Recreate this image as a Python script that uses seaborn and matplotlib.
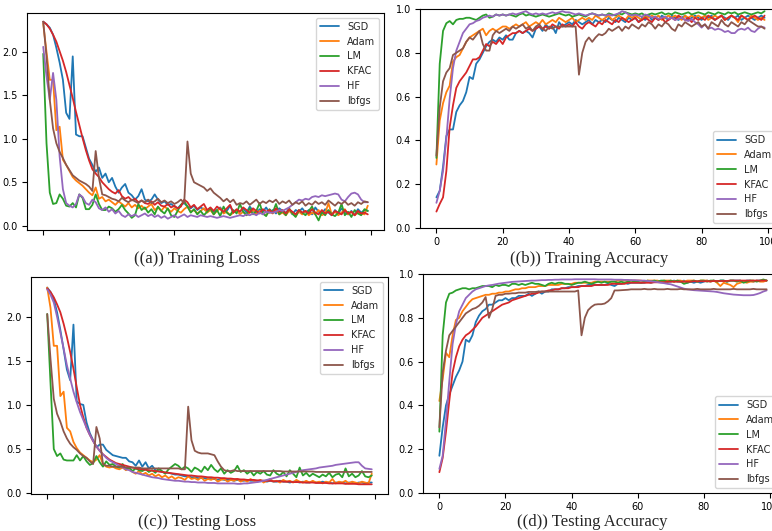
import matplotlib
matplotlib.use("Agg")
import matplotlib.pyplot as plt
import pandas as pd
import seaborn as sns

epochs = list(range(100))
names = ["SGD", "Adam", "LM", "KFAC", "HF", "lbfgs"]

# (a) training loss
tr_loss_sgd = [2.35, 2.32, 2.28, 2.20, 2.05, 1.88, 1.68, 1.30, 1.23, 1.95,
               1.05, 1.03, 1.03, 0.90, 0.77, 0.70, 0.62, 0.67, 0.55, 0.60,
               0.50, 0.55, 0.45, 0.38, 0.44, 0.48, 0.38, 0.35, 0.30, 0.34,
               0.42, 0.30, 0.28, 0.30, 0.36, 0.30, 0.26, 0.28, 0.24, 0.25,
               0.22, 0.20, 0.24, 0.26, 0.22, 0.20, 0.23, 0.18, 0.21, 0.19,
               0.17, 0.20, 0.16, 0.18, 0.21, 0.15, 0.17, 0.23, 0.15, 0.18,
               0.16, 0.20, 0.15, 0.22, 0.17, 0.14, 0.19, 0.16, 0.21, 0.15,
               0.18, 0.14, 0.20, 0.17, 0.15, 0.19, 0.13, 0.18, 0.16, 0.20,
               0.15, 0.18, 0.13, 0.21, 0.16, 0.14, 0.19, 0.15, 0.12, 0.18,
               0.14, 0.20, 0.15, 0.13, 0.17, 0.12, 0.19, 0.15, 0.18, 0.17]
tr_loss_adam = [2.33, 2.00, 1.68, 1.68, 1.10, 1.14, 0.76, 0.70, 0.63, 0.56,
                0.52, 0.49, 0.46, 0.42, 0.38, 0.35, 0.44, 0.31, 0.33, 0.28,
                0.30, 0.27, 0.24, 0.28, 0.25, 0.22, 0.26, 0.21, 0.24, 0.20,
                0.23, 0.19, 0.22, 0.25, 0.18, 0.21, 0.17, 0.22, 0.19, 0.16,
                0.20, 0.17, 0.15, 0.19, 0.22, 0.16, 0.18, 0.14, 0.17, 0.20,
                0.15, 0.18, 0.13, 0.17, 0.20, 0.14, 0.16, 0.12, 0.15, 0.18,
                0.13, 0.16, 0.12, 0.15, 0.18, 0.13, 0.17, 0.14, 0.12, 0.16,
                0.14, 0.18, 0.13, 0.15, 0.12, 0.17, 0.14, 0.11, 0.16, 0.13,
                0.17, 0.12, 0.15, 0.13, 0.18, 0.12, 0.14, 0.26, 0.13, 0.16,
                0.12, 0.15, 0.19, 0.13, 0.16, 0.12, 0.15, 0.14, 0.13, 0.23]
tr_loss_lm = [1.98, 0.95, 0.38, 0.25, 0.26, 0.36, 0.31, 0.23, 0.22, 0.26,
              0.21, 0.36, 0.32, 0.19, 0.19, 0.24, 0.36, 0.25, 0.18, 0.18,
              0.22, 0.20, 0.16, 0.19, 0.24, 0.18, 0.14, 0.09, 0.12, 0.25,
              0.18, 0.21, 0.15, 0.19, 0.13, 0.22, 0.17, 0.14, 0.20, 0.12,
              0.10, 0.17, 0.24, 0.28, 0.22, 0.15, 0.19, 0.13, 0.17, 0.12,
              0.16, 0.20, 0.13, 0.18, 0.11, 0.22, 0.15, 0.12, 0.18, 0.14,
              0.25, 0.16, 0.12, 0.20, 0.13, 0.17, 0.26, 0.14, 0.11, 0.19,
              0.15, 0.25, 0.13, 0.17, 0.12, 0.20, 0.14, 0.10, 0.18, 0.15,
              0.12, 0.17, 0.22, 0.13, 0.06, 0.16, 0.12, 0.18, 0.13, 0.11,
              0.15, 0.25, 0.12, 0.16, 0.10, 0.18, 0.14, 0.12, 0.19, 0.17]
tr_loss_kfac = [2.35, 2.32, 2.27, 2.20, 2.12, 2.01, 1.90, 1.77, 1.62, 1.47,
                1.31, 1.16, 1.01, 0.87, 0.75, 0.65, 0.60, 0.56, 0.50, 0.46,
                0.42, 0.39, 0.37, 0.41, 0.34, 0.31, 0.33, 0.29, 0.31, 0.27,
                0.29, 0.26, 0.25, 0.28, 0.24, 0.27, 0.23, 0.22, 0.25, 0.21,
                0.23, 0.20, 0.22, 0.30, 0.27, 0.21, 0.24, 0.19, 0.22, 0.25,
                0.18, 0.21, 0.17, 0.22, 0.19, 0.16, 0.20, 0.24, 0.15, 0.19,
                0.16, 0.21, 0.18, 0.15, 0.20, 0.17, 0.14, 0.19, 0.16, 0.18,
                0.15, 0.20, 0.16, 0.18, 0.14, 0.19, 0.16, 0.13, 0.18, 0.15,
                0.17, 0.14, 0.19, 0.15, 0.13, 0.18, 0.14, 0.16, 0.12, 0.17,
                0.15, 0.13, 0.18, 0.14, 0.16, 0.12, 0.17, 0.14, 0.15, 0.13]
tr_loss_hf = [2.06, 1.72, 1.45, 1.76, 1.45, 0.80, 0.42, 0.26, 0.23, 0.21,
              0.25, 0.36, 0.33, 0.26, 0.24, 0.30, 0.27, 0.20, 0.18, 0.21,
              0.16, 0.19, 0.14, 0.17, 0.12, 0.10, 0.13, 0.11, 0.13, 0.10,
              0.12, 0.14, 0.11, 0.13, 0.10, 0.12, 0.09, 0.11, 0.08, 0.10,
              0.12, 0.09, 0.11, 0.13, 0.10, 0.12, 0.11, 0.10, 0.12, 0.11,
              0.10, 0.11, 0.10, 0.09, 0.10, 0.11, 0.10, 0.09, 0.10, 0.11,
              0.12, 0.11, 0.13, 0.12, 0.14, 0.12, 0.15, 0.13, 0.16, 0.15,
              0.15, 0.16, 0.18, 0.17, 0.19, 0.21, 0.24, 0.27, 0.30, 0.29,
              0.31, 0.30, 0.33, 0.34, 0.33, 0.35, 0.34, 0.35, 0.36, 0.37,
              0.36, 0.30, 0.28, 0.33, 0.37, 0.38, 0.36, 0.30, 0.27, 0.27]
tr_loss_lbfgs = [2.35, 1.95, 1.45, 1.12, 0.95, 0.85, 0.78, 0.70, 0.64, 0.58,
                 0.55, 0.52, 0.50, 0.48, 0.45, 0.40, 0.86, 0.55, 0.36, 0.35,
                 0.33, 0.31, 0.30, 0.28, 0.32, 0.29, 0.27, 0.30, 0.28, 0.26,
                 0.29, 0.27, 0.30, 0.26, 0.28, 0.31, 0.27, 0.29, 0.26, 0.28,
                 0.25, 0.27, 0.30, 0.26, 0.97, 0.60, 0.50, 0.48, 0.46, 0.44,
                 0.40, 0.43, 0.38, 0.35, 0.32, 0.28, 0.31, 0.27, 0.30, 0.24,
                 0.26, 0.25, 0.28, 0.24, 0.27, 0.30, 0.25, 0.28, 0.26, 0.29,
                 0.27, 0.30, 0.25, 0.28, 0.26, 0.29, 0.24, 0.27, 0.25, 0.28,
                 0.23, 0.26, 0.24, 0.28, 0.25, 0.27, 0.24, 0.29, 0.26, 0.23,
                 0.27, 0.25, 0.28, 0.24, 0.26, 0.23, 0.27, 0.25, 0.28, 0.27]

# (b) training accuracy
tr_acc_sgd = [0.14, 0.17, 0.28, 0.42, 0.45, 0.45, 0.53, 0.56, 0.58, 0.62,
              0.69, 0.68, 0.75, 0.77, 0.80, 0.83, 0.85, 0.86, 0.85, 0.87,
              0.86, 0.88, 0.86, 0.86, 0.89, 0.90, 0.89, 0.90, 0.89, 0.87,
              0.91, 0.92, 0.90, 0.93, 0.91, 0.92, 0.89, 0.94, 0.92, 0.93,
              0.94, 0.93, 0.95, 0.94, 0.93, 0.94, 0.95, 0.93, 0.95, 0.94,
              0.95, 0.94, 0.96, 0.95, 0.94, 0.96, 0.95, 0.94, 0.96, 0.95,
              0.96, 0.94, 0.96, 0.95, 0.97, 0.95, 0.96, 0.95, 0.97, 0.96,
              0.95, 0.97, 0.96, 0.95, 0.96, 0.97, 0.95, 0.96, 0.97, 0.96,
              0.95, 0.97, 0.96, 0.97, 0.95, 0.96, 0.97, 0.96, 0.95, 0.97,
              0.96, 0.97, 0.95, 0.96, 0.97, 0.96, 0.95, 0.96, 0.97, 0.96]
tr_acc_adam = [0.29, 0.49, 0.57, 0.62, 0.65, 0.76, 0.78, 0.79, 0.82, 0.85,
               0.87, 0.88, 0.89, 0.90, 0.91, 0.88, 0.90, 0.91, 0.90, 0.91,
               0.92, 0.92, 0.91, 0.92, 0.93, 0.92, 0.93, 0.94, 0.92, 0.93,
               0.94, 0.93, 0.95, 0.93, 0.94, 0.95, 0.94, 0.96, 0.95, 0.94,
               0.95, 0.96, 0.94, 0.95, 0.96, 0.95, 0.96, 0.95, 0.97, 0.96,
               0.95, 0.96, 0.97, 0.95, 0.96, 0.97, 0.96, 0.95, 0.97, 0.96,
               0.97, 0.96, 0.95, 0.97, 0.96, 0.97, 0.96, 0.97, 0.95, 0.96,
               0.97, 0.96, 0.97, 0.96, 0.95, 0.97, 0.96, 0.97, 0.96, 0.97,
               0.96, 0.97, 0.95, 0.96, 0.97, 0.96, 0.97, 0.95, 0.96, 0.97,
               0.96, 0.94, 0.97, 0.96, 0.95, 0.97, 0.96, 0.95, 0.96, 0.95]
tr_acc_lm = [0.32, 0.75, 0.90, 0.935, 0.945, 0.93, 0.95, 0.955, 0.955, 0.96,
             0.96, 0.955, 0.95, 0.96, 0.97, 0.975, 0.96, 0.965, 0.975, 0.97,
             0.975, 0.97, 0.975, 0.97, 0.965, 0.975, 0.98, 0.97, 0.975, 0.97,
             0.965, 0.97, 0.975, 0.97, 0.965, 0.97, 0.975, 0.98, 0.975, 0.97,
             0.975, 0.965, 0.97, 0.975, 0.97, 0.965, 0.975, 0.98, 0.975, 0.97,
             0.975, 0.97, 0.98, 0.975, 0.97, 0.98, 0.975, 0.985, 0.98, 0.975,
             0.98, 0.975, 0.98, 0.97, 0.975, 0.98, 0.975, 0.98, 0.985, 0.975,
             0.98, 0.975, 0.985, 0.98, 0.975, 0.98, 0.985, 0.975, 0.98, 0.985,
             0.98, 0.975, 0.985, 0.98, 0.975, 0.985, 0.98, 0.975, 0.985, 0.98,
             0.985, 0.975, 0.98, 0.985, 0.98, 0.975, 0.98, 0.985, 0.98, 0.99]
tr_acc_kfac = [0.075, 0.11, 0.14, 0.26, 0.46, 0.56, 0.64, 0.67, 0.69, 0.71,
               0.74, 0.77, 0.77, 0.78, 0.81, 0.84, 0.83, 0.85, 0.84, 0.86,
               0.84, 0.87, 0.88, 0.89, 0.89, 0.90, 0.89, 0.90, 0.91, 0.90,
               0.91, 0.92, 0.91, 0.92, 0.91, 0.93, 0.92, 0.91, 0.93, 0.92,
               0.93, 0.92, 0.94, 0.92, 0.91, 0.93, 0.94, 0.93, 0.92, 0.94,
               0.93, 0.95, 0.94, 0.93, 0.95, 0.94, 0.96, 0.95, 0.94, 0.95,
               0.96, 0.94, 0.95, 0.96, 0.95, 0.94, 0.96, 0.95, 0.96, 0.94,
               0.95, 0.96, 0.95, 0.97, 0.96, 0.95, 0.96, 0.94, 0.96, 0.95,
               0.96, 0.95, 0.97, 0.96, 0.95, 0.96, 0.97, 0.95, 0.96, 0.97,
               0.96, 0.95, 0.97, 0.96, 0.95, 0.96, 0.97, 0.96, 0.95, 0.97]
tr_acc_hf = [0.115, 0.17, 0.26, 0.41, 0.59, 0.73, 0.81, 0.85, 0.89, 0.91,
             0.93, 0.935, 0.945, 0.95, 0.96, 0.965, 0.97, 0.965, 0.975, 0.97,
             0.975, 0.97, 0.975, 0.98, 0.975, 0.98, 0.985, 0.99, 0.98, 0.975,
             0.98, 0.975, 0.98, 0.975, 0.98, 0.985, 0.98, 0.985, 0.99, 0.985,
             0.985, 0.98, 0.975, 0.98, 0.975, 0.97, 0.975, 0.98, 0.975, 0.97,
             0.975, 0.97, 0.975, 0.97, 0.975, 0.98, 0.99, 0.985, 0.975, 0.97,
             0.975, 0.97, 0.965, 0.975, 0.97, 0.96, 0.965, 0.955, 0.96, 0.965,
             0.955, 0.96, 0.95, 0.955, 0.96, 0.95, 0.945, 0.955, 0.94, 0.93,
             0.915, 0.93, 0.91, 0.915, 0.905, 0.91, 0.905, 0.895, 0.90, 0.89,
             0.89, 0.905, 0.91, 0.905, 0.915, 0.90, 0.895, 0.91, 0.92, 0.915]
tr_acc_lbfgs = [0.33, 0.55, 0.67, 0.71, 0.73, 0.79, 0.80, 0.81, 0.82, 0.85,
                0.87, 0.86, 0.88, 0.90, 0.84, 0.81, 0.81, 0.88, 0.90, 0.89,
                0.90, 0.91, 0.90, 0.92, 0.91, 0.92, 0.93, 0.91, 0.92, 0.90,
                0.92, 0.93, 0.91, 0.90, 0.92, 0.91, 0.92, 0.92, 0.92, 0.92,
                0.92, 0.92, 0.92, 0.70, 0.80, 0.85, 0.87, 0.85, 0.87, 0.885,
                0.88, 0.89, 0.91, 0.90, 0.91, 0.92, 0.90, 0.92, 0.91, 0.93,
                0.92, 0.91, 0.93, 0.92, 0.94, 0.93, 0.91, 0.93, 0.92, 0.94,
                0.93, 0.91, 0.90, 0.93, 0.92, 0.94, 0.93, 0.92, 0.93, 0.94,
                0.92, 0.93, 0.91, 0.94, 0.93, 0.92, 0.95, 0.93, 0.92, 0.94,
                0.93, 0.92, 0.94, 0.93, 0.95, 0.94, 0.93, 0.92, 0.92, 0.91]

# (c) testing loss
te_loss_sgd = [2.33, 2.28, 2.20, 2.05, 1.85, 1.63, 1.40, 1.28, 1.91, 1.04,
               1.01, 1.00, 0.80, 0.68, 0.60, 0.52, 0.55, 0.55, 0.49, 0.46,
               0.43, 0.42, 0.41, 0.40, 0.40, 0.36, 0.35, 0.31, 0.37, 0.30,
               0.35, 0.28, 0.31, 0.26, 0.25, 0.24, 0.23, 0.23, 0.22, 0.21,
               0.21, 0.20, 0.19, 0.19, 0.18, 0.18, 0.17, 0.17, 0.17, 0.16,
               0.16, 0.16, 0.15, 0.16, 0.15, 0.15, 0.15, 0.14, 0.15, 0.14,
               0.14, 0.15, 0.14, 0.14, 0.13, 0.14, 0.14, 0.13, 0.14, 0.13,
               0.13, 0.14, 0.13, 0.13, 0.12, 0.13, 0.13, 0.12, 0.13, 0.12,
               0.12, 0.13, 0.12, 0.12, 0.13, 0.12, 0.12, 0.11, 0.12, 0.12,
               0.12, 0.11, 0.12, 0.12, 0.11, 0.12, 0.12, 0.11, 0.12, 0.12]
te_loss_adam = [2.33, 2.10, 1.67, 1.67, 1.10, 1.15, 0.74, 0.70, 0.58, 0.51,
                0.46, 0.43, 0.40, 0.37, 0.35, 0.38, 0.43, 0.33, 0.30, 0.29,
                0.30, 0.28, 0.27, 0.29, 0.26, 0.28, 0.24, 0.22, 0.25, 0.21,
                0.23, 0.20, 0.22, 0.19, 0.21, 0.18, 0.20, 0.17, 0.19, 0.16,
                0.18, 0.17, 0.15, 0.19, 0.16, 0.17, 0.15, 0.18, 0.14, 0.16,
                0.15, 0.17, 0.13, 0.15, 0.16, 0.13, 0.15, 0.14, 0.16, 0.13,
                0.15, 0.13, 0.16, 0.14, 0.13, 0.15, 0.12, 0.14, 0.16, 0.13,
                0.14, 0.12, 0.15, 0.13, 0.14, 0.12, 0.15, 0.13, 0.12, 0.14,
                0.12, 0.14, 0.12, 0.13, 0.11, 0.13, 0.12, 0.16, 0.11, 0.13,
                0.12, 0.14, 0.11, 0.13, 0.12, 0.11, 0.13, 0.12, 0.11, 0.22]
te_loss_lm = [2.03, 1.25, 0.50, 0.42, 0.45, 0.38, 0.37, 0.37, 0.37, 0.43,
              0.37, 0.42, 0.36, 0.32, 0.34, 0.42, 0.35, 0.30, 0.36, 0.32,
              0.33, 0.30, 0.29, 0.33, 0.27, 0.29, 0.25, 0.28, 0.26, 0.25,
              0.27, 0.24, 0.26, 0.23, 0.28, 0.25, 0.22, 0.27, 0.30, 0.33,
              0.31, 0.27, 0.30, 0.28, 0.24, 0.29, 0.27, 0.24, 0.30, 0.26,
              0.32, 0.27, 0.24, 0.28, 0.22, 0.26, 0.23, 0.25, 0.31, 0.24,
              0.26, 0.22, 0.25, 0.20, 0.24, 0.22, 0.25, 0.21, 0.20, 0.26,
              0.22, 0.20, 0.24, 0.19, 0.26, 0.22, 0.18, 0.29, 0.20, 0.23,
              0.19, 0.22, 0.20, 0.18, 0.21, 0.19, 0.23, 0.18, 0.21, 0.22,
              0.18, 0.28, 0.19, 0.22, 0.18, 0.20, 0.25, 0.19, 0.18, 0.20]
te_loss_kfac = [2.32, 2.28, 2.22, 2.14, 2.05, 1.92, 1.77, 1.60, 1.41, 1.20,
                1.00, 0.86, 0.74, 0.66, 0.59, 0.53, 0.48, 0.44, 0.41, 0.38,
                0.36, 0.34, 0.33, 0.32, 0.31, 0.30, 0.29, 0.28, 0.275, 0.27,
                0.265, 0.26, 0.255, 0.25, 0.245, 0.24, 0.235, 0.23, 0.225, 0.22,
                0.215, 0.21, 0.205, 0.20, 0.20, 0.195, 0.19, 0.19, 0.185, 0.18,
                0.18, 0.175, 0.175, 0.17, 0.17, 0.165, 0.165, 0.16, 0.16, 0.155,
                0.155, 0.15, 0.15, 0.15, 0.145, 0.145, 0.14, 0.14, 0.14, 0.135,
                0.135, 0.135, 0.13, 0.13, 0.13, 0.125, 0.125, 0.125, 0.12, 0.12,
                0.12, 0.12, 0.115, 0.115, 0.115, 0.115, 0.11, 0.11, 0.11, 0.11,
                0.11, 0.105, 0.105, 0.105, 0.105, 0.10, 0.10, 0.10, 0.10, 0.10]
te_loss_hf = [2.31, 2.25, 2.16, 2.00, 1.82, 1.64, 1.45, 1.30, 1.15, 1.03,
              0.92, 0.83, 0.74, 0.66, 0.59, 0.53, 0.48, 0.44, 0.40, 0.37,
              0.35, 0.33, 0.31, 0.29, 0.27, 0.26, 0.24, 0.23, 0.22, 0.21,
              0.20, 0.19, 0.18, 0.175, 0.17, 0.16, 0.155, 0.15, 0.145, 0.14,
              0.14, 0.135, 0.13, 0.13, 0.125, 0.125, 0.12, 0.12, 0.12, 0.115,
              0.115, 0.115, 0.11, 0.11, 0.11, 0.11, 0.11, 0.11, 0.105, 0.105,
              0.11, 0.11, 0.115, 0.12, 0.125, 0.13, 0.14, 0.15, 0.16, 0.17,
              0.18, 0.19, 0.20, 0.21, 0.22, 0.23, 0.24, 0.25, 0.26, 0.265,
              0.27, 0.275, 0.28, 0.29, 0.295, 0.30, 0.305, 0.31, 0.32, 0.325,
              0.33, 0.335, 0.34, 0.345, 0.35, 0.35, 0.31, 0.28, 0.275, 0.27]
te_loss_lbfgs = [2.03, 1.52, 1.07, 0.90, 0.81, 0.70, 0.62, 0.56, 0.52, 0.49,
                 0.45, 0.42, 0.40, 0.36, 0.33, 0.75, 0.62, 0.33, 0.31, 0.31,
                 0.30, 0.30, 0.30, 0.30, 0.29, 0.29, 0.29, 0.29, 0.29, 0.28,
                 0.28, 0.28, 0.28, 0.28, 0.28, 0.28, 0.28, 0.28, 0.28, 0.28,
                 0.28, 0.27, 0.27, 0.98, 0.60, 0.48, 0.46, 0.45, 0.45, 0.45,
                 0.44, 0.43, 0.36, 0.30, 0.26, 0.25, 0.25, 0.26, 0.25, 0.25,
                 0.25, 0.25, 0.25, 0.25, 0.25, 0.25, 0.25, 0.25, 0.25, 0.25,
                 0.25, 0.25, 0.245, 0.245, 0.245, 0.245, 0.245, 0.245, 0.245, 0.245,
                 0.245, 0.245, 0.24, 0.24, 0.24, 0.24, 0.24, 0.24, 0.24, 0.24,
                 0.24, 0.24, 0.24, 0.24, 0.24, 0.24, 0.24, 0.24, 0.24, 0.24]

# (d) testing accuracy
te_acc_sgd = [0.17, 0.30, 0.40, 0.45, 0.49, 0.53, 0.56, 0.60, 0.70, 0.69,
              0.72, 0.78, 0.81, 0.83, 0.84, 0.86, 0.86, 0.87, 0.88, 0.88,
              0.89, 0.88, 0.89, 0.89, 0.90, 0.90, 0.90, 0.91, 0.90, 0.91,
              0.92, 0.91, 0.92, 0.92, 0.93, 0.93, 0.93, 0.935, 0.935, 0.94,
              0.94, 0.94, 0.945, 0.945, 0.945, 0.95, 0.95, 0.95, 0.95, 0.95,
              0.95, 0.955, 0.95, 0.945, 0.955, 0.955, 0.96, 0.955, 0.96, 0.96,
              0.96, 0.96, 0.96, 0.965, 0.96, 0.965, 0.965, 0.965, 0.965, 0.965,
              0.965, 0.97, 0.965, 0.965, 0.97, 0.96, 0.965, 0.96, 0.965, 0.96,
              0.965, 0.97, 0.965, 0.97, 0.965, 0.97, 0.97, 0.965, 0.97, 0.97,
              0.97, 0.97, 0.965, 0.97, 0.97, 0.965, 0.97, 0.97, 0.97, 0.97]
te_acc_adam = [0.42, 0.52, 0.64, 0.62, 0.72, 0.79, 0.80, 0.83, 0.85, 0.87,
               0.885, 0.89, 0.895, 0.90, 0.905, 0.905, 0.91, 0.91, 0.915, 0.915,
               0.92, 0.92, 0.925, 0.93, 0.93, 0.935, 0.935, 0.94, 0.94, 0.94,
               0.945, 0.945, 0.945, 0.95, 0.95, 0.95, 0.95, 0.955, 0.955, 0.955,
               0.955, 0.96, 0.96, 0.96, 0.96, 0.96, 0.96, 0.965, 0.965, 0.965,
               0.965, 0.965, 0.965, 0.965, 0.97, 0.97, 0.97, 0.97, 0.97, 0.97,
               0.97, 0.97, 0.965, 0.97, 0.97, 0.97, 0.97, 0.965, 0.97, 0.97,
               0.97, 0.965, 0.97, 0.97, 0.965, 0.97, 0.97, 0.97, 0.965, 0.97,
               0.97, 0.97, 0.965, 0.97, 0.96, 0.945, 0.96, 0.955, 0.95, 0.94,
               0.955, 0.96, 0.965, 0.96, 0.965, 0.965, 0.97, 0.965, 0.965, 0.97]
te_acc_lm = [0.28, 0.72, 0.87, 0.91, 0.915, 0.925, 0.93, 0.935, 0.935, 0.93,
             0.935, 0.935, 0.94, 0.945, 0.945, 0.945, 0.94, 0.95, 0.945, 0.95,
             0.95, 0.945, 0.955, 0.955, 0.95, 0.955, 0.95, 0.955, 0.96, 0.955,
             0.955, 0.95, 0.945, 0.955, 0.96, 0.955, 0.96, 0.96, 0.955, 0.955,
             0.95, 0.955, 0.96, 0.96, 0.965, 0.96, 0.955, 0.96, 0.965, 0.96,
             0.965, 0.96, 0.965, 0.965, 0.96, 0.965, 0.96, 0.965, 0.97, 0.965,
             0.965, 0.96, 0.965, 0.97, 0.965, 0.97, 0.965, 0.97, 0.97, 0.965,
             0.97, 0.965, 0.97, 0.965, 0.955, 0.96, 0.965, 0.97, 0.965, 0.97,
             0.97, 0.965, 0.97, 0.97, 0.965, 0.97, 0.97, 0.965, 0.97, 0.97,
             0.965, 0.97, 0.96, 0.965, 0.97, 0.97, 0.965, 0.97, 0.975, 0.97]
te_acc_kfac = [0.095, 0.16, 0.28, 0.42, 0.55, 0.62, 0.67, 0.70, 0.72, 0.73,
               0.745, 0.76, 0.78, 0.80, 0.81, 0.82, 0.83, 0.84, 0.85, 0.86,
               0.865, 0.87, 0.88, 0.885, 0.89, 0.895, 0.90, 0.905, 0.91, 0.91,
               0.915, 0.92, 0.92, 0.925, 0.925, 0.93, 0.93, 0.935, 0.935, 0.935,
               0.94, 0.94, 0.94, 0.945, 0.945, 0.945, 0.945, 0.95, 0.95, 0.95,
               0.95, 0.95, 0.955, 0.955, 0.955, 0.955, 0.955, 0.96, 0.96, 0.96,
               0.96, 0.96, 0.96, 0.96, 0.96, 0.962, 0.962, 0.962, 0.962, 0.965,
               0.965, 0.965, 0.965, 0.965, 0.965, 0.965, 0.965, 0.967, 0.967, 0.967,
               0.967, 0.967, 0.967, 0.968, 0.968, 0.968, 0.968, 0.968, 0.97, 0.97,
               0.97, 0.97, 0.97, 0.97, 0.97, 0.97, 0.97, 0.97, 0.97, 0.97]
te_acc_hf = [0.11, 0.17, 0.33, 0.51, 0.68, 0.77, 0.83, 0.86, 0.89, 0.905,
             0.92, 0.93, 0.935, 0.94, 0.945, 0.948, 0.95, 0.953, 0.956, 0.958,
             0.96, 0.962, 0.964, 0.965, 0.966, 0.967, 0.968, 0.969, 0.97, 0.97,
             0.971, 0.972, 0.972, 0.973, 0.973, 0.974, 0.974, 0.975, 0.975, 0.975,
             0.975, 0.976, 0.976, 0.976, 0.976, 0.976, 0.976, 0.976, 0.975, 0.975,
             0.975, 0.975, 0.975, 0.974, 0.974, 0.974, 0.973, 0.973, 0.972, 0.972,
             0.971, 0.97, 0.97, 0.968, 0.967, 0.965, 0.963, 0.96, 0.958, 0.955,
             0.953, 0.948, 0.943, 0.938, 0.933, 0.93, 0.928, 0.926, 0.925, 0.924,
             0.923, 0.922, 0.921, 0.92, 0.918, 0.915, 0.912, 0.91, 0.908, 0.906,
             0.905, 0.904, 0.903, 0.903, 0.903, 0.904, 0.908, 0.913, 0.92, 0.925]
te_acc_lbfgs = [0.30, 0.55, 0.65, 0.72, 0.74, 0.76, 0.78, 0.80, 0.82, 0.83,
                0.84, 0.845, 0.855, 0.87, 0.895, 0.80, 0.84, 0.90, 0.905, 0.905,
                0.91, 0.91, 0.912, 0.912, 0.915, 0.915, 0.915, 0.918, 0.918, 0.918,
                0.92, 0.92, 0.92, 0.92, 0.92, 0.92, 0.92, 0.92, 0.92, 0.92,
                0.92, 0.92, 0.925, 0.72, 0.80, 0.835, 0.85, 0.86, 0.862, 0.862,
                0.865, 0.875, 0.89, 0.925, 0.925, 0.926, 0.927, 0.928, 0.93, 0.93,
                0.93, 0.93, 0.932, 0.93, 0.93, 0.932, 0.93, 0.93, 0.93, 0.932,
                0.93, 0.93, 0.93, 0.932, 0.93, 0.93, 0.93, 0.93, 0.932, 0.93,
                0.93, 0.93, 0.93, 0.932, 0.93, 0.93, 0.93, 0.93, 0.93, 0.932,
                0.93, 0.93, 0.93, 0.93, 0.93, 0.932, 0.93, 0.93, 0.93, 0.93]

panels = [
    ([tr_loss_sgd, tr_loss_adam, tr_loss_lm, tr_loss_kfac, tr_loss_hf, tr_loss_lbfgs],
     "((a)) Training Loss"),
    ([tr_acc_sgd, tr_acc_adam, tr_acc_lm, tr_acc_kfac, tr_acc_hf, tr_acc_lbfgs],
     "((b)) Training Accuracy"),
    ([te_loss_sgd, te_loss_adam, te_loss_lm, te_loss_kfac, te_loss_hf, te_loss_lbfgs],
     "((c)) Testing Loss"),
    ([te_acc_sgd, te_acc_adam, te_acc_lm, te_acc_kfac, te_acc_hf, te_acc_lbfgs],
     "((d)) Testing Accuracy"),
]

sns.set_style("ticks", {"axes.edgecolor": "black", "xtick.color": "black",
                        "ytick.color": "black"})
plt.rcParams["font.family"] = ["DejaVu Sans"]
colors = sns.color_palette("tab10", 6)

W, H = 772, 531
fig = plt.figure(figsize=(W / 100, H / 100), dpi=100)

# axes boxes in pixels: left, top, right, bottom
boxes = [(27, 13, 384, 230), (420, 9, 781, 228),
         (31, 277, 388, 494), (423, 274, 783, 493)]
captions_xy = [(197, 259), (589, 259), (197, 522), (592, 522)]

for i, (series, caption) in enumerate(panels):
    l, t, r, b = boxes[i]
    ax = fig.add_axes([l / W, 1 - b / H, (r - l) / W, (b - t) / H])
    for name, vals, c in zip(names, series, colors):
        df = pd.DataFrame({"epoch": epochs, "value": vals})
        sns.lineplot(data=df, x="epoch", y="value", color=c, label=name,
                     linewidth=1.3, errorbar=None, ax=ax)
    ax.set_xlim(-4.95, 103.95)
    ax.set_xlabel("")
    ax.set_ylabel("")
    ax.set_xticks([0, 20, 40, 60, 80, 100])
    for sp in ax.spines.values():
        sp.set_linewidth(0.8)
    ax.tick_params(labelsize=7, length=3.5, width=0.8, pad=3)
    if i % 2 == 0:
        ax.set_xticklabels([])
        ax.set_yticks([0.0, 0.5, 1.0, 1.5, 2.0])
        ax.set_ylim(-0.05 if i == 0 else -0.01, 2.45)
        ax.legend(loc="upper right", fontsize=7)
    else:
        ax.set_ylim(0, 1)
        ax.set_yticks([0.0, 0.2, 0.4, 0.6, 0.8, 1.0])
        ax.legend(loc="lower right", fontsize=7)
    cx, cy = captions_xy[i]
    fig.text(cx / W, 1 - cy / H, caption, ha="center", va="center",
             family="Liberation Serif", fontsize=12)

fig.savefig("out.png", dpi=100)
